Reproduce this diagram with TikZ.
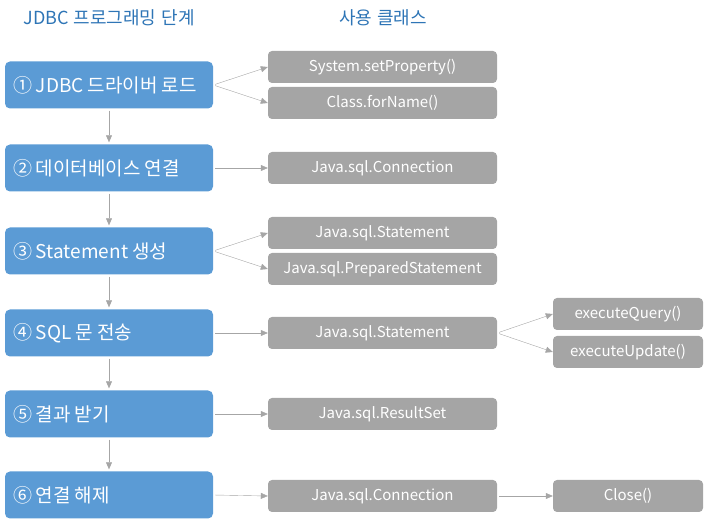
\documentclass[tikz,border=0pt]{standalone}
\usepackage{fontspec}
\setmainfont{Noto Sans CJK KR}
\usetikzlibrary{arrows.meta}
\definecolor{stageblue}{HTML}{5B9BD5}
\definecolor{clsgray}{HTML}{A5A5A5}
\definecolor{arrgray}{HTML}{A6A6A6}
\definecolor{titleblue}{HTML}{2E75B6}
\newcommand\stagesize{\fontsize{19}{21}\selectfont\spaceskip 4pt plus 1pt\relax}
\newcommand\titlesize{\fontsize{18}{21}\selectfont\spaceskip 5pt\relax}
\tikzset{
stage/.style={fill=stageblue, rounded corners=5pt, inner xsep=8pt,
  minimum height=47pt, text=white, font={\stagesize}},
cls/.style={fill=clsgray, rounded corners=4pt, minimum width=229pt, minimum height=32pt,
  inner xsep=2pt, text=white, font=\fontsize{15}{17}\selectfont},
meth/.style={cls, minimum width=150pt},
title/.style={text=titleblue, font={\titlesize}},
arr/.style={draw=arrgray, -{Triangle[length=7pt,width=6pt]}, shorten <=2pt}
}
\begin{document}
\begin{tikzpicture}[x=1pt,y=-1pt]
\useasboundingbox (0,0) rectangle (710,526);
% titles
\node[title] (t1) at (109,18) {JDBC 프로그래밍 단계};
\node[title] (t2) at (383,18) {사용 클래스};
% programming steps
\foreach \i/\y/\txt in {1/85/{① JDBC 드라이버 로드}, 2/168/{② 데이터베이스 연결},
  3/251/{③ Statement 생성}, 4/333/{④ SQL 문 전송}, 5/414/{⑤ 결과 받기}, 6/495/{⑥ 연결 해제}}{
\node[stage] (s\i) at (109,\y) {\makebox[192pt][l]{\txt}};
}
\foreach \i [count=\j from 2] in {1,...,5}{
\draw[arr, shorten >=2pt] (s\i.south) -- (s\j.north);
}
% classes
\node[cls] (c1a) at (382.5,67) {System.setProperty()};
\node[cls] (c1b) at (382.5,103) {Class.forName()};
\node[cls] (c2) at (382.5,168) {Java.sql.Connection};
\node[cls] (c3a) at (382.5,233) {Java.sql.Statement};
\node[cls] (c3b) at (382.5,269) {Java.sql.PreparedStatement};
\node[cls] (c4) at (382.5,333) {Java.sql.Statement};
\node[cls] (c5) at (382.5,414) {Java.sql.ResultSet};
\node[cls] (c6) at (382.5,496) {Java.sql.Connection};
\node[meth] (m4a) at (628,314) {executeQuery()};
\node[meth] (m4b) at (628,352) {executeUpdate()};
\node[meth] (m6) at (628,496) {Close()};
% connectors
\draw[arr] (s1.east) -- (c1a.west);
\draw[arr] (s1.east) -- (c1b.west);
\draw[arr] (s2.east) -- (c2.west);
\draw[arr] (s3.east) -- (c3a.west);
\draw[arr] (s3.east) -- (c3b.west);
\draw[arr] (s4.east) -- (c4.west);
\draw[arr] (s5.east) -- (c5.west);
\draw[arr] (s6.east) -- (c6.west);
\draw[arr] (c4.east) -- (m4a.west);
\draw[arr] (c4.east) -- (m4b.west);
\draw[arr] (c6.east) -- (m6.west);
\end{tikzpicture}
\end{document}
